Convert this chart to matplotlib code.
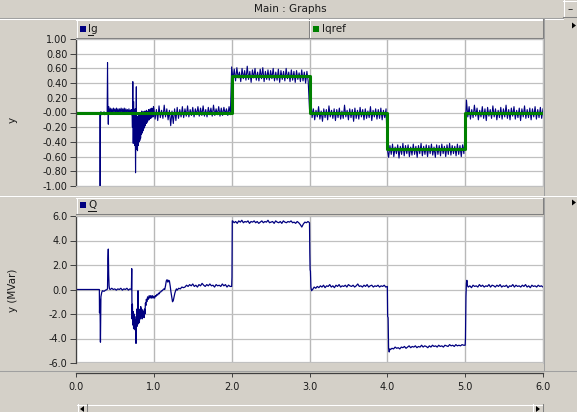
import numpy as np
import matplotlib
matplotlib.use('Agg')
import matplotlib.pyplot as plt
from matplotlib.patches import Rectangle, Polygon
from matplotlib.lines import Line2D

# ---------------- data ----------------
# Ig, explicit points around the first disturbances
ig_head = [(0.0, 0.0), (0.305, 0.0), (0.310, -1.05), (0.315, -0.02), (0.320, 0.01),
           (0.330, -0.03), (0.340, 0.0), (0.350, -0.02), (0.360, 0.01), (0.370, -0.03),
           (0.380, 0.0), (0.390, -0.02), (0.400, 0.0), (0.405, 0.68), (0.410, 0.05),
           (0.415, -0.16), (0.420, 0.08)]
# evenly sampled stretches: (start, end, values)
ig_a = [0.05, -0.01, 0.06, 0.00, 0.05, -0.02, 0.06, 0.01, 0.05, -0.01, 0.06, 0.00, 0.05, -0.02,
        0.05, 0.01, 0.06, -0.01, 0.05, 0.00, 0.06, -0.02, 0.05, 0.01, 0.04, -0.01, 0.05, 0.00]
ig_b = [0.03, -0.02, 0.04, -0.03, 0.02, -0.20, 0.42, -0.42, 0.15, -0.35,
        -0.05, -0.45, 0.05, -0.82, -0.30, 0.35, -0.50, -0.10, -0.52, -0.05,
        -0.45, -0.02, -0.40, -0.05, -0.38, 0.00, -0.35, -0.03, -0.30, 0.02,
        -0.28, -0.02, -0.25, 0.01, -0.22, -0.03, -0.20, 0.02, -0.18, -0.02,
        -0.15, 0.03, -0.14, 0.00, -0.12, 0.02, -0.10, 0.04, -0.10, 0.01,
        -0.08, 0.05, -0.08, 0.02, -0.07, 0.06, -0.06, 0.03, -0.06, 0.08]
ig_c = [0.06, -0.09, 0.04, -0.11, 0.09, -0.07, 0.03, -0.08, 0.10, -0.06, 0.05, -0.10,
        0.03, -0.18, 0.02, -0.15, 0.05, -0.11, 0.07, -0.08, 0.04, -0.06, 0.08, -0.07,
        0.05, -0.05, 0.09, -0.06, 0.04, -0.04, 0.07, -0.06, 0.05, -0.03, 0.08, -0.05,
        0.06, -0.04, 0.09, -0.05, 0.04, -0.06, 0.07, -0.03, 0.06, -0.05, 0.10, -0.04,
        0.05, -0.03, 0.08, -0.05, 0.06, -0.04, 0.07, -0.02, 0.05, -0.04, 0.08, -0.03]
ig_d = [0.62, 0.45, 0.59, 0.43, 0.61, 0.47, 0.55, 0.42, 0.60, 0.46, 0.57, 0.44, 0.63, 0.45, 0.56,
        0.41, 0.58, 0.47, 0.60, 0.44, 0.55, 0.43, 0.59, 0.46, 0.61, 0.42, 0.56, 0.45, 0.58, 0.44,
        0.57, 0.46, 0.60, 0.43, 0.55, 0.44, 0.59, 0.41, 0.57, 0.45, 0.56, 0.43, 0.60, 0.46, 0.55,
        0.42, 0.58, 0.44, 0.56, 0.41, 0.57, 0.45, 0.54, 0.42, 0.58, 0.43, 0.55, 0.40, 0.56, 0.42]
ig_e = [0.04, 0.22, -0.07, 0.05, -0.10, 0.03, -0.06, 0.08, -0.09, 0.02, -0.12, 0.05, -0.07, 0.04,
        -0.10, 0.09, -0.06, 0.03, -0.08, 0.05, -0.11, 0.04, -0.07, 0.06, -0.09, 0.02, -0.08, 0.10,
        -0.06, 0.03, -0.10, 0.05, -0.07, 0.04, -0.12, 0.06, -0.08, 0.03, -0.09, 0.07, -0.06, 0.04,
        -0.10, 0.05, -0.08, 0.02, -0.07, 0.08, -0.11, 0.03, -0.06, 0.05, -0.09, 0.04, -0.08, 0.06,
        -0.10, 0.03, -0.07, 0.05]
ig_f = [-0.50, -0.61, -0.45, -0.57, -0.43, -0.60, -0.47, -0.56, -0.44, -0.62, -0.46, -0.57,
        -0.42, -0.59, -0.45, -0.56, -0.44, -0.60, -0.47, -0.58, -0.43, -0.57, -0.46, -0.61,
        -0.45, -0.56, -0.42, -0.59, -0.46, -0.57, -0.44, -0.60, -0.45, -0.56, -0.43, -0.58,
        -0.47, -0.61, -0.44, -0.57, -0.45, -0.59, -0.43, -0.56, -0.46, -0.60, -0.44, -0.57,
        -0.42, -0.58, -0.45, -0.56, -0.46, -0.59, -0.43, -0.57, -0.45, -0.60, -0.44, -0.56]
ig_g = [-0.25, 0.17, -0.06, 0.08, -0.09, 0.04, -0.07, 0.10, -0.05, 0.06, -0.10, 0.03, -0.06,
        0.08, -0.08, 0.05, -0.11, 0.07, -0.05, 0.04, -0.08, 0.09, -0.06, 0.05, -0.10, 0.03,
        -0.07, 0.07, -0.09, 0.05, -0.06, 0.10, -0.08, 0.04, -0.10, 0.06, -0.05, 0.08, -0.09,
        0.03, -0.07, 0.06, -0.11, 0.05, -0.06, 0.09, -0.08, 0.04, -0.07, 0.06, -0.10, 0.05,
        -0.06, 0.08, -0.09, 0.04, -0.07, 0.07, -0.08, 0.05]
ig_segments = [(0.42, 0.70, ig_a), (0.70, 1.00, ig_b), (1.00, 2.00, ig_c), (2.00, 3.00, ig_d),
               (3.00, 4.00, ig_e), (4.00, 5.00, ig_f), (5.00, 6.00, ig_g)]

# Iqref step reference
iqref_t = [0.0, 2.0, 2.0, 3.0, 3.0, 4.0, 4.0, 5.0, 5.0, 6.0]
iqref_v = [0.0, 0.0, 0.5, 0.5, 0.0, 0.0, -0.5, -0.5, 0.0, 0.0]

# Q [MVar]
q_head = [(0.0, 0.0), (0.300, 0.0), (0.302, -1.9), (0.308, -0.8), (0.314, -4.3), (0.320, -0.6),
          (0.330, -0.25), (0.340, -0.1), (0.360, -0.15), (0.380, -0.05), (0.400, 0.0),
          (0.405, 0.1), (0.410, 2.5), (0.415, 3.3), (0.420, 1.2), (0.425, 0.3), (0.430, 0.05)]
q_flat = [0.0, 0.1, 0.0, 0.05, -0.05, 0.05, 0.0, 0.1, -0.05, 0.05, 0.0, 0.1, -0.05, 0.05]
q_osc = [(0.712, 0.0), (0.716, 1.7), (0.720, -2.4), (0.725, -1.2), (0.730, -2.9), (0.735, -1.8),
         (0.740, -3.2), (0.745, -2.0), (0.750, -2.9), (0.755, -2.2), (0.760, -3.3), (0.765, -2.5),
         (0.771, -4.4), (0.776, -2.6), (0.781, -1.6), (0.786, -3.0), (0.792, -1.4), (0.797, -0.1),
         (0.802, -2.8), (0.808, -1.6), (0.814, -2.7), (0.820, -1.8), (0.826, -2.4), (0.832, -1.4),
         (0.838, -2.2), (0.844, -1.6), (0.850, -2.4), (0.856, -1.7), (0.862, -2.2), (0.868, -1.8),
         (0.874, -2.3), (0.880, -1.6), (0.886, -2.0), (0.892, -1.1), (0.898, -1.3), (0.904, -0.8),
         (0.910, -1.0), (0.920, -0.6), (0.930, -0.8), (0.940, -0.5), (0.950, -0.7), (0.960, -0.5),
         (0.970, -0.7), (0.980, -0.5), (0.990, -0.7), (1.000, -0.55), (1.010, -0.7), (1.020, -0.5),
         (1.030, -0.55), (1.040, -0.4), (1.050, -0.45), (1.060, -0.3), (1.070, -0.35), (1.080, -0.2),
         (1.090, -0.2), (1.100, -0.1), (1.110, -0.1), (1.120, 0.0), (1.130, 0.05), (1.140, 0.0),
         (1.150, 0.3), (1.160, 0.7), (1.170, 0.8), (1.180, 0.6), (1.190, 0.75), (1.200, 0.7),
         (1.210, 0.3), (1.220, -0.2), (1.230, -0.6), (1.240, -1.0), (1.250, -0.9), (1.260, -0.6),
         (1.270, -0.3), (1.280, -0.1), (1.290, 0.05), (1.300, -0.05), (1.320, 0.1), (1.340, 0.05),
         (1.360, 0.2), (1.380, 0.15)]
q_pre = [0.2, 0.35, 0.25, 0.4, 0.3, 0.45, 0.25, 0.35, 0.2, 0.4, 0.3, 0.5, 0.35, 0.25, 0.4,
         0.3, 0.45, 0.3, 0.35, 0.2, 0.4, 0.3, 0.35, 0.25, 0.45, 0.3, 0.4, 0.2, 0.35, 0.25]
q_jump2 = [(2.000, 0.25), (2.004, 1.0), (2.008, 5.6)]
q_hi = [5.6, 5.45, 5.55, 5.4, 5.6, 5.5, 5.65, 5.45, 5.55, 5.5, 5.6, 5.4, 5.55, 5.5, 5.6, 5.45,
        5.55, 5.4, 5.5, 5.6, 5.45, 5.55, 5.5, 5.65, 5.45, 5.5, 5.55, 5.4, 5.6, 5.5, 5.45, 5.55,
        5.4, 5.6, 5.5, 5.45, 5.55, 5.5, 5.6, 5.45, 5.5, 5.4, 5.55, 5.45, 5.3, 5.1, 5.35, 5.5,
        5.45, 5.55]
q_jump3 = [(3.000, 5.45), (3.004, 3.0), (3.008, 1.6), (3.012, 1.5), (3.018, 0.2), (3.026, -0.1)]
q_mid1 = [0.0, 0.2, 0.1, 0.25, 0.15, 0.3, 0.2, 0.35, 0.15, 0.3, 0.25, 0.4, 0.2, 0.3, 0.15, 0.35,
          0.25, 0.4, 0.2, 0.3, 0.25, 0.35, 0.2, 0.4, 0.3, 0.25, 0.35, 0.2, 0.3, 0.45, 0.25, 0.3,
          0.2, 0.35, 0.25, 0.4, 0.2, 0.3, 0.35, 0.2, 0.3, 0.25, 0.35, 0.2, 0.3, 0.25, 0.35, 0.2]
q_jump4 = [(4.000, 0.25), (4.004, -2.2), (4.010, -2.3), (4.016, -4.8), (4.024, -5.1), (4.032, -4.85)]
q_lo = [-4.9, -4.8, -4.85, -4.7, -4.8, -4.75, -4.85, -4.7, -4.75, -4.65, -4.8, -4.7, -4.6, -4.75,
        -4.65, -4.7, -4.6, -4.75, -4.65, -4.7, -4.55, -4.7, -4.6, -4.65, -4.75, -4.6, -4.7, -4.55,
        -4.65, -4.6, -4.7, -4.55, -4.65, -4.6, -4.7, -4.55, -4.6, -4.65, -4.5, -4.6, -4.55, -4.65,
        -4.5, -4.6, -4.55, -4.6, -4.5, -4.55]
q_jump5 = [(5.000, -4.55), (5.004, -4.0), (5.010, -0.6), (5.016, 0.5), (5.022, 0.75), (5.030, 0.3)]
q_mid2 = [0.2, 0.3, 0.15, 0.35, 0.25, 0.3, 0.2, 0.4, 0.25, 0.35, 0.2, 0.3, 0.25, 0.4, 0.2, 0.35,
          0.3, 0.2, 0.35, 0.25, 0.4, 0.2, 0.3, 0.25, 0.35, 0.15, 0.3, 0.25, 0.4, 0.2, 0.35, 0.25,
          0.3, 0.2, 0.35, 0.25, 0.4, 0.2, 0.3, 0.15, 0.35, 0.25, 0.3, 0.2, 0.35, 0.25, 0.3, 0.2]

x_ticks = [0, 1, 2, 3, 4, 5, 6]
x_labels = ['0.0', '1.0', '2.0', '3.0', '4.0', '5.0', '6.0']
y1_ticks = np.round(np.arange(-1.0, 1.001, 0.2), 2)
y2_ticks = [-6, -4, -2, 0, 2, 4, 6]


def pts(pairs):
    return [p[0] for p in pairs], [p[1] for p in pairs]


def even(t0, t1, vals, end=False):
    return list(np.linspace(t0, t1, len(vals), endpoint=end)), list(vals)


# assemble Ig
ig_t, ig_v = pts(ig_head)
for t0, t1, vals in ig_segments:
    tt, vv = even(t0, t1, vals, end=(t1 == 6.0))
    ig_t += tt
    ig_v += vv

# assemble Q
q_t, q_v = [], []
for part in [pts(q_head), even(0.44, 0.712, q_flat), pts(q_osc), even(1.40, 2.0, q_pre),
             pts(q_jump2), even(2.012, 3.0, q_hi), pts(q_jump3), even(3.04, 4.0, q_mid1),
             pts(q_jump4), even(4.04, 5.0, q_lo), pts(q_jump5), even(5.04, 6.0, q_mid2, True)]:
    q_t += part[0]
    q_v += part[1]

# ---------------- drawing ----------------
W, H = 577, 412
BG = '#D4D0C8'
DARK = '#808080'
GRID = '#C0C0C0'
NAVY = '#000080'
GREEN = '#008000'
TXT = '#1a1a1a'
plt.rcParams['font.family'] = ['DejaVu Sans']

fig = plt.figure(figsize=(W / 100, H / 100), dpi=100, facecolor=BG)


def fx(x):
    return x / W


def fy(y):
    return 1 - y / H


def rect(x0, y0, x1, y1, fc):
    fig.add_artist(Rectangle((fx(x0), fy(y1)), fx(x1) - fx(x0), fy(y0) - fy(y1),
                             transform=fig.transFigure, facecolor=fc, edgecolor='none', zorder=-2))


def hline(x0, x1, y, color):
    fig.add_artist(Line2D([fx(x0), fx(x1)], [fy(y), fy(y)], transform=fig.transFigure,
                          color=color, lw=0.75, zorder=-1))


def vline(x, y0, y1, color):
    fig.add_artist(Line2D([fx(x), fx(x)], [fy(y0), fy(y1)], transform=fig.transFigure,
                          color=color, lw=0.75, zorder=-1))


def bevel(x0, y0, x1, y1):
    rect(x0, y0, x1, y1, BG)
    hline(x0, x1, y0 + 0.5, 'white')
    vline(x0 + 0.5, y0, y1, 'white')
    hline(x0, x1, y1 - 0.5, DARK)
    vline(x1 - 0.5, y0, y1, DARK)


def tri(points, color='black'):
    fig.add_artist(Polygon([(fx(a), fy(b)) for a, b in points], closed=True,
                           transform=fig.transFigure, facecolor=color, edgecolor='none', zorder=-1))


def label(x, y, s, **kw):
    fig.text(fx(x), fy(y), s, color=TXT, **kw)


# title bar
label(290, 9, 'Main : Graphs', ha='center', va='center', fontsize=7.5)
hline(0, 563, 17.5, '#A0A0A0')
hline(0, 563, 18.5, 'white')
bevel(563, 0, 577, 17)
label(570, 9, '\u2013', ha='center', va='center', fontsize=7.5)

# legend header rows
bevel(76, 19, 309, 38)
bevel(309, 19, 543, 38)
rect(80, 26, 86, 32, NAVY)
label(88, 29, 'Ig', ha='left', va='center', fontsize=7.5)
hline(88, 93, 34.5, TXT)
rect(313, 26, 319, 32, GREEN)
label(322, 29, 'Iqref', ha='left', va='center', fontsize=7.5)

bevel(76, 198, 543, 214)
rect(80, 202, 86, 208, NAVY)
label(88, 205, 'Q', ha='left', va='center', fontsize=7.5)
hline(88, 96, 210.5, TXT)

# separators and side pane
hline(0, 577, 195.5, '#A0A0A0')
hline(0, 577, 196.5, 'white')
hline(0, 577, 370.5, '#A0A0A0')
vline(543.5, 19, 195, '#A0A0A0')
vline(543.5, 198, 370, '#A0A0A0')
tri([(572, 22.5), (576, 25.5), (572, 28.5)])
tri([(572, 199.5), (576, 202.5), (572, 205.5)])

# horizontal scrollbar
hline(87, 532, 404.5, 'white')
bevel(77, 404, 87, 413)
tri([(84, 406), (80, 409), (84, 412)])
bevel(532, 404, 543, 413)
tri([(536, 406), (540, 409), (536, 412)])

# axis titles
label(13, 120, 'y', rotation=90, ha='center', va='center', fontsize=7.5)
label(13, 290, 'y (MVar)', rotation=90, ha='center', va='center', fontsize=7.5)

ax1 = fig.add_axes([fx(76), fy(186), fx(543) - fx(76), fy(39) - fy(186)])
ax2 = fig.add_axes([fx(76), fy(363), fx(543) - fx(76), fy(216) - fy(363)])

for ax in (ax1, ax2):
    ax.set_facecolor('white')
    ax.set_xlim(0, 6)
    ax.set_xticks(x_ticks)
    ax.grid(True, axis='y', color=GRID, lw=0.9)
    ax.grid(True, axis='x', color='#B8B8B8', lw=1.0)
    ax.set_axisbelow(True)
    for side in ('top', 'right', 'bottom'):
        ax.spines[side].set_color(GRID)
        ax.spines[side].set_linewidth(0.8)
    ax.spines['left'].set_color('#404040')
    ax.spines['left'].set_linewidth(0.9)
    ax.tick_params(axis='y', direction='out', length=4.5, width=0.7, color='#404040',
                   pad=1.5, labelsize=7, labelcolor=TXT)

ax1.set_ylim(-1, 1)
ax1.set_yticks(y1_ticks)
ax1.set_yticklabels([f'{v:.2f}' for v in y1_ticks])
ax1.tick_params(axis='x', bottom=False, labelbottom=False)
ax1.plot(ig_t, ig_v, color=NAVY, lw=0.8)
ax1.plot(iqref_t, iqref_v, color=GREEN, lw=2.2)

ax2.set_ylim(-6, 6)
ax2.set_yticks(y2_ticks)
ax2.set_yticklabels([f'{v:.1f}' for v in y2_ticks])
ax2.set_xticklabels(x_labels)
ax2.spines['bottom'].set_position(('outward', 7.3))
ax2.spines['bottom'].set_color('#404040')
ax2.spines['bottom'].set_linewidth(0.9)
ax2.tick_params(axis='x', direction='out', length=3, width=0.7, color='#404040',
                pad=3.5, labelsize=7, labelcolor=TXT)
ax2.axhline(-6, color=GRID, lw=1.6)
ax2.plot(q_t, q_v, color=NAVY, lw=0.9)

fig.savefig('out.png', dpi=100, facecolor=BG)
